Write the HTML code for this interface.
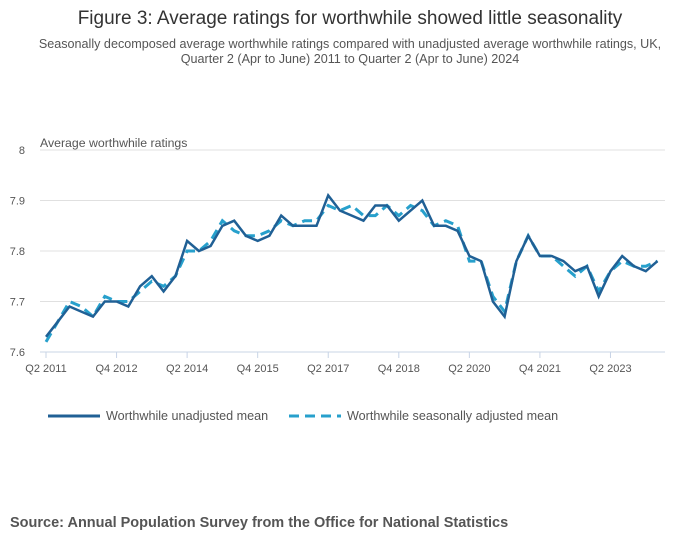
<!DOCTYPE html>
<html><head><meta charset="utf-8"><style>
body{margin:0;background:#fff;font-family:"Liberation Sans",sans-serif;}
svg text{font-family:"Liberation Sans",sans-serif;}
</style></head><body>
<svg width="700" height="549">
<text x="350" y="24" text-anchor="middle" font-size="19" fill="#333">Figure 3: Average ratings for worthwhile showed little seasonality</text>
<text x="350" y="48" text-anchor="middle" font-size="12.6" fill="#555">Seasonally decomposed average worthwhile ratings compared with unadjusted average worthwhile ratings, UK,</text>
<text x="350" y="63" text-anchor="middle" font-size="12.6" fill="#555">Quarter 2 (Apr to June) 2011 to Quarter 2 (Apr to June) 2024</text>
<text x="40" y="147" font-size="12.3" fill="#555">Average worthwhile ratings</text>
<g id="grid"></g><g id="xaxis"></g><g id="lines"></g>
<g>
<line x1="48" y1="416" x2="100" y2="416" stroke="#206095" stroke-width="3"/>
<text x="106" y="420" font-size="12.6" fill="#555">Worthwhile unadjusted mean</text>
<line x1="289" y1="416" x2="341" y2="416" stroke="#27a0cc" stroke-width="3" stroke-dasharray="10,6"/>
<text x="347" y="420" font-size="12.6" fill="#555">Worthwhile seasonally adjusted mean</text>
</g>
<text x="10" y="527" font-size="14.5" font-weight="bold" fill="#555">Source: Annual Population Survey from the Office for National Statistics</text>
</svg>
<script>
const yTicks=[7.6,7.7,7.8,7.9,8];
const xTickLabels=["Q2 2011","Q4 2012","Q2 2014","Q4 2015","Q2 2017","Q4 2018","Q2 2020","Q4 2021","Q2 2023"];
const unadjusted=[7.63,7.66,7.69,7.68,7.67,7.70,7.70,7.69,7.73,7.75,7.72,7.75,7.82,7.80,7.81,7.85,7.86,7.83,7.82,7.83,7.87,7.85,7.85,7.85,7.91,7.88,7.87,7.86,7.89,7.89,7.86,7.88,7.90,7.85,7.85,7.84,7.79,7.78,7.70,7.67,7.78,7.83,7.79,7.79,7.78,7.76,7.77,7.71,7.76,7.79,7.77,7.76,7.78];
const adjusted=[7.62,7.66,7.70,7.69,7.67,7.71,7.70,7.70,7.72,7.74,7.73,7.75,7.80,7.80,7.82,7.86,7.84,7.83,7.83,7.84,7.86,7.85,7.86,7.86,7.89,7.88,7.89,7.87,7.87,7.89,7.87,7.89,7.88,7.85,7.86,7.85,7.78,7.78,7.71,7.68,7.78,7.83,7.79,7.79,7.77,7.75,7.77,7.72,7.76,7.78,7.77,7.77,7.78];
const NS="http://www.w3.org/2000/svg";
const X0=46,DX=11.76,Y0=352,Y1=150;
const xs=i=>X0+i*DX;
const ys=v=>Y0-(v-7.6)/(0.4)*(Y0-Y1);
function mk(t,a,p){const e=document.createElementNS(NS,t);for(const k in a)e.setAttribute(k,a[k]);p.appendChild(e);return e;}
const grid=document.getElementById('grid');
yTicks.forEach(v=>{
 if(v>7.6){const l=mk('line',{x1:40,x2:665,y1:ys(v),y2:ys(v),stroke:'#e0e0e0'},grid);
 
 }
 const t=mk('text',{x:25,y:ys(v)+4,'text-anchor':'end','font-size':11,fill:'#555'},grid);
 
 
 t.textContent=String(v);
});
const xa=document.getElementById('xaxis');
const ax=mk('line',{x1:40,x2:665,y1:Y0,y2:Y0,stroke:'#c8d4e6'},xa);


xTickLabels.forEach((s,k)=>{
 const x=xs(k*6);
 const tk=mk('line',{x1:x,x2:x,y1:Y0,y2:Y0+6,stroke:'#c8d4e6'},xa);
 
 
 const t=mk('text',{x:x,y:372,'text-anchor':'middle','font-size':11,fill:'#555'},xa);
 
 
 t.textContent=s;
});
const lg=document.getElementById('lines');
function pts(a){return a.map((v,i)=>xs(i).toFixed(1)+','+ys(v).toFixed(1)).join(' ');}
const la=mk('polyline',{points:pts(adjusted),fill:'none',stroke:'#27a0cc','stroke-width':3,'stroke-dasharray':'10,6'},lg);


const lu=mk('polyline',{points:pts(unadjusted),fill:'none',stroke:'#206095','stroke-width':2.5,'stroke-linejoin':'miter'},lg);


</script>
</body></html>
